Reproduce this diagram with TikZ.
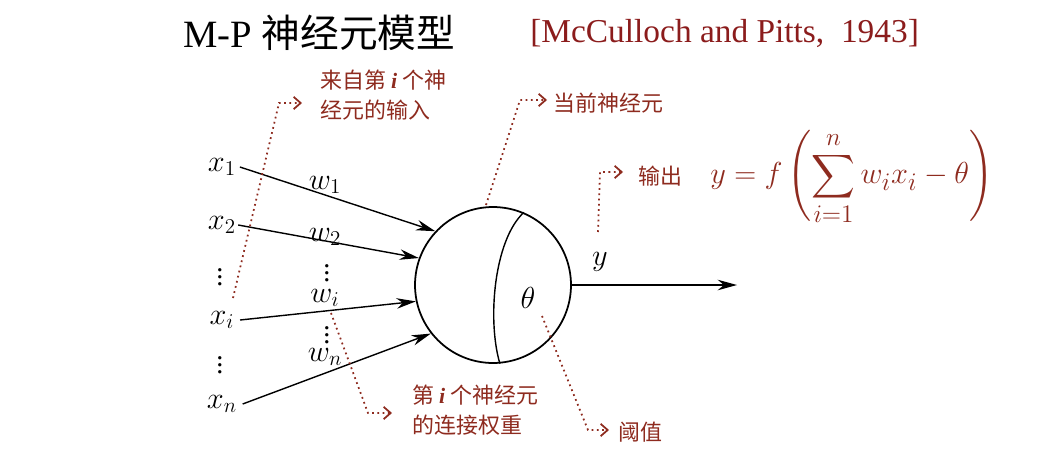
\documentclass[tikz,border=0pt]{standalone}
\usepackage{amsmath}
\usepackage{fontspec}
\setmainfont{Liberation Serif}
\newfontfamily\cjk{Noto Sans CJK SC}
\usetikzlibrary{arrows.meta}
\definecolor{annored}{HTML}{8E2B1F}
\definecolor{citered}{HTML}{8B1C1C}

\begin{document}
\begin{tikzpicture}[x=0.02cm, y=-0.02cm,
  var/.style={inner sep=0pt, font=\fontsize{18}{20}\selectfont},
  dots/.style={inner sep=0pt, font=\fontsize{16}{18}\selectfont},
  neuron/.style={circle, draw, line width=1pt, minimum size=3.12cm, inner sep=0pt},
  arr/.style={-{Stealth[length=11pt,width=6pt]}, line width=0.8pt},
  note/.style={anchor=west, align=left, text=annored, inner sep=0pt,
               font=\cjk\fontsize{12.5}{17}\selectfont},
  pointer/.style={dotted, line width=1pt, annored,
                  -{Straight Barb[length=4pt,width=7pt]}},
]
  \useasboundingbox (0,0) rectangle (1054,474);
  % Title
  \node[anchor=west, inner sep=0pt, font=\fontsize{22}{26}\selectfont] (title) at (183,33)
    {M-P {\cjk 神经元模型}};
  \node[anchor=west, inner sep=0pt, text=citered, font=\fontsize{19}{24}\selectfont] (cite) at (530,33)
    {[McCulloch and Pitts,\ \ 1943]};

  % Neuron
  \node[neuron] (cell) at (493,285) {};
  \draw[line width=0.8pt] (cell.67) .. controls (494,240) and (487,320) .. (cell.-85);
  \node[var] (theta) at (528,298) {$\theta$};

  % Inputs
  \node[var] (x1) at (222,167) {$x_1$};
  \node[var] (x2) at (222,225) {$x_2$};
  \node[dots] (xd1) at (220,272) {$\vdots$};
  \node[var] (xi) at (222,320) {$x_i$};
  \node[dots] (xd2) at (220,360) {$\vdots$};
  \node[var] (xn) at (222,404) {$x_n$};

  % Weights
  \node[var] (w1) at (325,185) {$w_1$};
  \node[var] (w2) at (325,237) {$w_2$};
  \node[dots] (wd1) at (327,268) {$\vdots$};
  \node[var] (wi) at (325,298) {$w_i$};
  \node[dots] (wd2) at (327,330) {$\vdots$};
  \node[var] (wn) at (325,357) {$w_n$};

  % Input arrows
  \draw[arr] ([xshift=2pt]x1.east) -- (cell.137);
  \draw[arr] ([xshift=1pt]x2.east) -- (cell.160);
  \draw[arr] ([xshift=3pt]xi.east) -- (cell.192);
  \draw[arr] ([xshift=3pt]xn.east) -- (cell.218);

  % Output
  \coordinate (out) at (737,285);
  \draw[arr] (cell.east) -- (out);
  \node[var] (y) at (600,262) {$y$};

  % Notes
  \node[note] (nin) at (320,95) {来自第 {\rmfamily\bfseries\itshape i} 个神\\经元的输入};
  \node[note] (ncur) at (553,103) {当前神经元};
  \node[note] (nout) at (638,176) {输出};
  \node[anchor=west, inner sep=0pt, text=annored, font=\fontsize{19}{22}\selectfont] (formula) at (710,178)
    {$\displaystyle y = f\left(\sum_{i=1}^{n} w_i x_i - \theta\right)$};
  \node[note] (nw) at (412,410) {第 {\rmfamily\bfseries\itshape i} 个神经元\\的连接权重};
  \node[note] (nth) at (618,432) {阈值};

  % Pointers
  \coordinate (pin) at (233,298);
  \coordinate (pcur) at (486,205);
  \coordinate (pout) at (598,232);
  \coordinate (pw) at (331,313);
  \coordinate (pth) at (542,316);
  \draw[pointer] (pin) -- (279,103) -- (302,103);
  \draw[pointer] (pcur) -- (520,100) -- (547,100);
  \draw[pointer] (pout) -- (600,172) -- (623,172);
  \draw[pointer] (pw) -- (368,413) -- (392,413);
  \draw[pointer] (pth) -- (588,430) -- (609,430);
\end{tikzpicture}
\end{document}
